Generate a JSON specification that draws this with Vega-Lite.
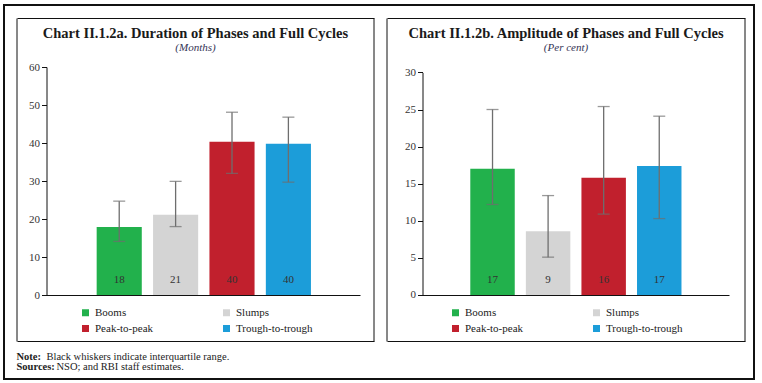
{
  "$schema": "https://vega.github.io/schema/vega-lite/v6.json",
  "background": "white",
  "autosize": {"type": "none"},
  "padding": {"left": 4, "top": 5, "right": 4, "bottom": 3},
  "width": 750,
  "height": 374,
  "view": {"stroke": "#111111", "strokeWidth": 2, "fill": "white"},
  "config": {
    "font": "Liberation Serif",
    "axis": {"labelFont": "Liberation Serif", "grid": false},
    "legend": {"labelFont": "Liberation Serif"}
  },
  "datasets": {
    "dur": [
      {"cat": "Booms", "v": 17.9, "lo": 14.1, "hi": 24.7},
      {"cat": "Slumps", "v": 21.1, "lo": 18.0, "hi": 29.9},
      {"cat": "Peak-to-peak", "v": 40.3, "lo": 32.0, "hi": 48.1},
      {"cat": "Trough-to-trough", "v": 39.8, "lo": 29.7, "hi": 46.8}
    ],
    "amp": [
      {"cat": "Booms", "v": 17.0, "lo": 12.2, "hi": 25.0},
      {"cat": "Slumps", "v": 8.6, "lo": 5.1, "hi": 13.4},
      {"cat": "Peak-to-peak", "v": 15.8, "lo": 10.9, "hi": 25.4},
      {"cat": "Trough-to-trough", "v": 17.4, "lo": 10.3, "hi": 24.1}
    ],
    "titles": [
      {"panel": "a", "title": "Chart II.1.2a. Duration of Phases and Full Cycles", "unit": "(Months)"},
      {"panel": "b", "title": "Chart II.1.2b. Amplitude of Phases and Full Cycles", "unit": "(Per cent)"}
    ],
    "notes": [
      {"line": 1, "head": "Note:", "body": "Black whiskers indicate interquartile range."},
      {"line": 2, "head": "Sources:", "body": "NSO; and RBI staff estimates."}
    ]
  },
  "resolve": {
    "scale": {"x": "independent", "y": "independent", "color": "independent"},
    "axis": {"x": "independent", "y": "independent"},
    "legend": {"color": "independent"}
  },
  "layer": [
    {
      "data": {"name": "dur"},
      "mark": {"type": "bar"},
      "encoding": {
        "x": {"field": "cat", "type": "nominal", "sort": null,
              "scale": {"type": "band", "domain": ["Booms", "Slumps", "Peak-to-peak", "Trough-to-trough"], "range": [41, 356], "paddingInner": 0.2, "paddingOuter": 0.893, "align": 0.513},
              "axis": {"orient": "bottom", "offset": -84, "title": null, "labels": false, "ticks": false, "domainColor": "#111111", "domainWidth": 1, "zindex": 1}},
        "y": {"field": "v", "type": "quantitative",
              "scale": {"domain": [-22.105, 76.316], "nice": false, "zero": false},
              "axis": {"orient": "left", "offset": -42.5, "title": null, "values": [0, 10, 20, 30, 40, 50, 60], "domainColor": "#111111", "domainDash": [0, 84, 228, 900], "tickColor": "#111111", "tickSize": 5, "labelFontSize": 11, "labelColor": "#333333", "labelPadding": 2, "zindex": 1}},
        "color": {"field": "cat", "type": "nominal",
                  "scale": {"domain": ["Booms", "Slumps", "Peak-to-peak", "Trough-to-trough"], "range": ["#22b14c", "#d4d4d4", "#c1202d", "#1c9dd9"]},
                  "legend": {"title": null, "orient": "none", "legendX": 76, "legendY": 302, "direction": "horizontal", "columns": 2, "columnPadding": 67, "rowPadding": 4, "symbolType": "square", "symbolSize": 49, "symbolStrokeWidth": 0, "labelFontSize": 11, "labelColor": "#222222", "labelOffset": 4}}
      }
    },
    {
      "data": {"name": "dur"},
      "mark": {"type": "errorbar", "thickness": 1.3, "ticks": {"size": 12, "color": "#6e6e6e"}, "rule": {"color": "#6e6e6e"}},
      "encoding": {
        "x": {"field": "cat", "type": "nominal", "sort": null,
              "scale": {"type": "band", "domain": ["Booms", "Slumps", "Peak-to-peak", "Trough-to-trough"], "range": [41, 356], "paddingInner": 0.2, "paddingOuter": 0.893, "align": 0.513},
              "axis": null},
        "y": {"field": "lo", "type": "quantitative", "title": null,
              "scale": {"domain": [-22.105, 76.316], "nice": false, "zero": false},
              "axis": {"orient": "left", "offset": -12.5, "title": null, "labels": false, "ticks": false, "domainColor": "#111111", "domainDash": [0, 38, 323, 900]}},
        "y2": {"field": "hi"}
      }
    },
    {
      "data": {"name": "dur"},
      "mark": {"type": "text", "baseline": "middle", "dy": -15, "fontSize": 11, "color": "#333333"},
      "encoding": {
        "x": {"field": "cat", "type": "nominal", "sort": null,
              "scale": {"type": "band", "domain": ["Booms", "Slumps", "Peak-to-peak", "Trough-to-trough"], "range": [41, 356], "paddingInner": 0.2, "paddingOuter": 0.893, "align": 0.513},
              "axis": null},
        "y": {"datum": 0, "type": "quantitative",
              "scale": {"domain": [-22.105, 76.316], "nice": false, "zero": false},
              "axis": {"orient": "left", "offset": -369.5, "title": null, "labels": false, "ticks": false, "domainColor": "#111111", "domainDash": [0, 38, 323, 900]}},
        "text": {"field": "v", "format": ".0f"}
      }
    },
    {
      "data": {"name": "titles"},
      "transform": [{"filter": "datum.panel == 'a'"}],
      "mark": {"type": "text", "align": "center", "baseline": "alphabetic", "fontSize": 14.5, "fontWeight": "bold", "color": "#1a1a1a"},
      "encoding": {
        "x": {"datum": "Slumps", "type": "nominal", "bandPosition": 0.94,
              "scale": {"type": "band", "domain": ["Booms", "Slumps", "Peak-to-peak", "Trough-to-trough"], "range": [41, 356], "paddingInner": 0.2, "paddingOuter": 0.893, "align": 0.513}, "axis": null},
        "y": {"datum": 67.63, "type": "quantitative",
              "scale": {"domain": [-22.105, 76.316], "nice": false, "zero": false}, "axis": null},
        "text": {"field": "title"}
      }
    },
    {
      "data": {"name": "titles"},
      "transform": [{"filter": "datum.panel == 'a'"}],
      "mark": {"type": "text", "align": "center", "baseline": "alphabetic", "fontSize": 11, "fontStyle": "italic", "color": "#333355"},
      "encoding": {
        "x": {"datum": "Slumps", "type": "nominal", "bandPosition": 0.94,
              "scale": {"type": "band", "domain": ["Booms", "Slumps", "Peak-to-peak", "Trough-to-trough"], "range": [41, 356], "paddingInner": 0.2, "paddingOuter": 0.893, "align": 0.513}, "axis": null},
        "y": {"datum": 64.2, "type": "quantitative",
              "scale": {"domain": [-22.105, 76.316], "nice": false, "zero": false}, "axis": null},
        "text": {"field": "unit"}
      }
    },
    {
      "data": {"name": "amp"},
      "mark": {"type": "bar"},
      "encoding": {
        "x": {"field": "cat", "type": "nominal", "sort": null,
              "scale": {"type": "band", "domain": ["Booms", "Slumps", "Peak-to-peak", "Trough-to-trough"], "range": [418, 725], "paddingInner": 0.2, "paddingOuter": 0.862, "align": 0.504},
              "axis": {"orient": "bottom", "offset": -84, "title": null, "labels": false, "ticks": false, "domainColor": "#111111", "domainWidth": 1, "zindex": 1}},
        "y": {"field": "v", "type": "quantitative",
              "scale": {"domain": [-11.321, 39.084], "nice": false, "zero": false},
              "axis": {"orient": "left", "offset": -418.5, "title": null, "values": [0, 5, 10, 15, 20, 25, 30], "domainColor": "#111111", "domainDash": [0, 84, 222.6, 900], "tickColor": "#111111", "tickSize": 5, "labelFontSize": 11, "labelColor": "#333333", "labelPadding": 2, "zindex": 1}},
        "color": {"field": "cat", "type": "nominal",
                  "scale": {"domain": ["Booms", "Slumps", "Peak-to-peak", "Trough-to-trough"], "range": ["#22b14c", "#d4d4d4", "#c1202d", "#1c9dd9"]},
                  "legend": {"title": null, "orient": "none", "legendX": 446, "legendY": 302, "direction": "horizontal", "columns": 2, "columnPadding": 67, "rowPadding": 4, "symbolType": "square", "symbolSize": 49, "symbolStrokeWidth": 0, "labelFontSize": 11, "labelColor": "#222222", "labelOffset": 4}}
      }
    },
    {
      "data": {"name": "amp"},
      "mark": {"type": "errorbar", "thickness": 1.3, "ticks": {"size": 12, "color": "#6e6e6e"}, "rule": {"color": "#6e6e6e"}},
      "encoding": {
        "x": {"field": "cat", "type": "nominal", "sort": null,
              "scale": {"type": "band", "domain": ["Booms", "Slumps", "Peak-to-peak", "Trough-to-trough"], "range": [418, 725], "paddingInner": 0.2, "paddingOuter": 0.862, "align": 0.504},
              "axis": null},
        "y": {"field": "lo", "type": "quantitative", "title": null,
              "scale": {"domain": [-11.321, 39.084], "nice": false, "zero": false},
              "axis": {"orient": "left", "offset": -382.5, "title": null, "labels": false, "ticks": false, "domainColor": "#111111", "domainDash": [0, 38, 323, 900]}},
        "y2": {"field": "hi"}
      }
    },
    {
      "data": {"name": "amp"},
      "mark": {"type": "text", "baseline": "middle", "dy": -15, "fontSize": 11, "color": "#333333"},
      "encoding": {
        "x": {"field": "cat", "type": "nominal", "sort": null,
              "scale": {"type": "band", "domain": ["Booms", "Slumps", "Peak-to-peak", "Trough-to-trough"], "range": [418, 725], "paddingInner": 0.2, "paddingOuter": 0.862, "align": 0.504},
              "axis": null},
        "y": {"datum": 0, "type": "quantitative",
              "scale": {"domain": [-11.321, 39.084], "nice": false, "zero": false},
              "axis": {"orient": "left", "offset": -740.5, "title": null, "labels": false, "ticks": false, "domainColor": "#111111", "domainDash": [0, 38, 323, 900]}},
        "text": {"field": "v", "format": ".0f"}
      }
    },
    {
      "data": {"name": "titles"},
      "transform": [{"filter": "datum.panel == 'b'"}],
      "mark": {"type": "text", "align": "center", "baseline": "alphabetic", "fontSize": 14.5, "fontWeight": "bold", "color": "#1a1a1a"},
      "encoding": {
        "x": {"datum": "Slumps", "type": "nominal", "bandPosition": 0.903,
              "scale": {"type": "band", "domain": ["Booms", "Slumps", "Peak-to-peak", "Trough-to-trough"], "range": [418, 725], "paddingInner": 0.2, "paddingOuter": 0.862, "align": 0.504}, "axis": null},
        "y": {"datum": 34.64, "type": "quantitative",
              "scale": {"domain": [-11.321, 39.084], "nice": false, "zero": false}, "axis": null},
        "text": {"field": "title"}
      }
    },
    {
      "data": {"name": "titles"},
      "transform": [{"filter": "datum.panel == 'b'"}],
      "mark": {"type": "text", "align": "center", "baseline": "alphabetic", "fontSize": 11, "fontStyle": "italic", "color": "#333355"},
      "encoding": {
        "x": {"datum": "Slumps", "type": "nominal", "bandPosition": 0.903,
              "scale": {"type": "band", "domain": ["Booms", "Slumps", "Peak-to-peak", "Trough-to-trough"], "range": [418, 725], "paddingInner": 0.2, "paddingOuter": 0.862, "align": 0.504}, "axis": null},
        "y": {"datum": 32.88, "type": "quantitative",
              "scale": {"domain": [-11.321, 39.084], "nice": false, "zero": false}, "axis": null},
        "text": {"field": "unit"}
      }
    },
    {
      "data": {"name": "notes"},
      "mark": {"type": "text", "align": "left", "baseline": "middle", "fontSize": 10.5, "fontWeight": "bold", "color": "#222222"},
      "encoding": {
        "x": {"datum": 0, "type": "quantitative", "scale": {"domain": [-12.5, 737.5], "nice": false, "zero": false},
              "axis": {"orient": "top", "offset": -13, "title": null, "labels": false, "ticks": false, "domainColor": "#111111", "domainWidth": 1, "domainDash": [0, 13, 357, 13, 358, 900]}},
        "y": {"field": "line", "type": "quantitative", "scale": {"domain": [-34.2, 3.2], "reverse": true, "nice": false, "zero": false}, "axis": null},
        "text": {"field": "head"}
      }
    },
    {
      "data": {"name": "notes"},
      "transform": [{"filter": "datum.line == 1"}],
      "mark": {"type": "text", "align": "left", "baseline": "middle", "fontSize": 10.5, "color": "#222222", "dx": 30},
      "encoding": {
        "x": {"datum": 0, "type": "quantitative", "scale": {"domain": [-12.5, 737.5], "nice": false, "zero": false},
              "axis": {"orient": "bottom", "offset": -38, "title": null, "labels": false, "ticks": false, "domainColor": "#111111", "domainWidth": 1, "domainDash": [0, 13, 357, 13, 358, 900]}},
        "y": {"field": "line", "type": "quantitative", "scale": {"domain": [-34.2, 3.2], "reverse": true, "nice": false, "zero": false}, "axis": null},
        "text": {"field": "body"}
      }
    },
    {
      "data": {"name": "notes"},
      "transform": [{"filter": "datum.line == 2"}],
      "mark": {"type": "text", "align": "left", "baseline": "middle", "fontSize": 10.5, "color": "#222222", "dx": 40},
      "encoding": {
        "x": {"datum": 0, "type": "quantitative", "scale": {"domain": [-12.5, 737.5], "nice": false, "zero": false}, "axis": null},
        "y": {"field": "line", "type": "quantitative", "scale": {"domain": [-34.2, 3.2], "reverse": true, "nice": false, "zero": false}, "axis": null},
        "text": {"field": "body"}
      }
    }
  ]
}
